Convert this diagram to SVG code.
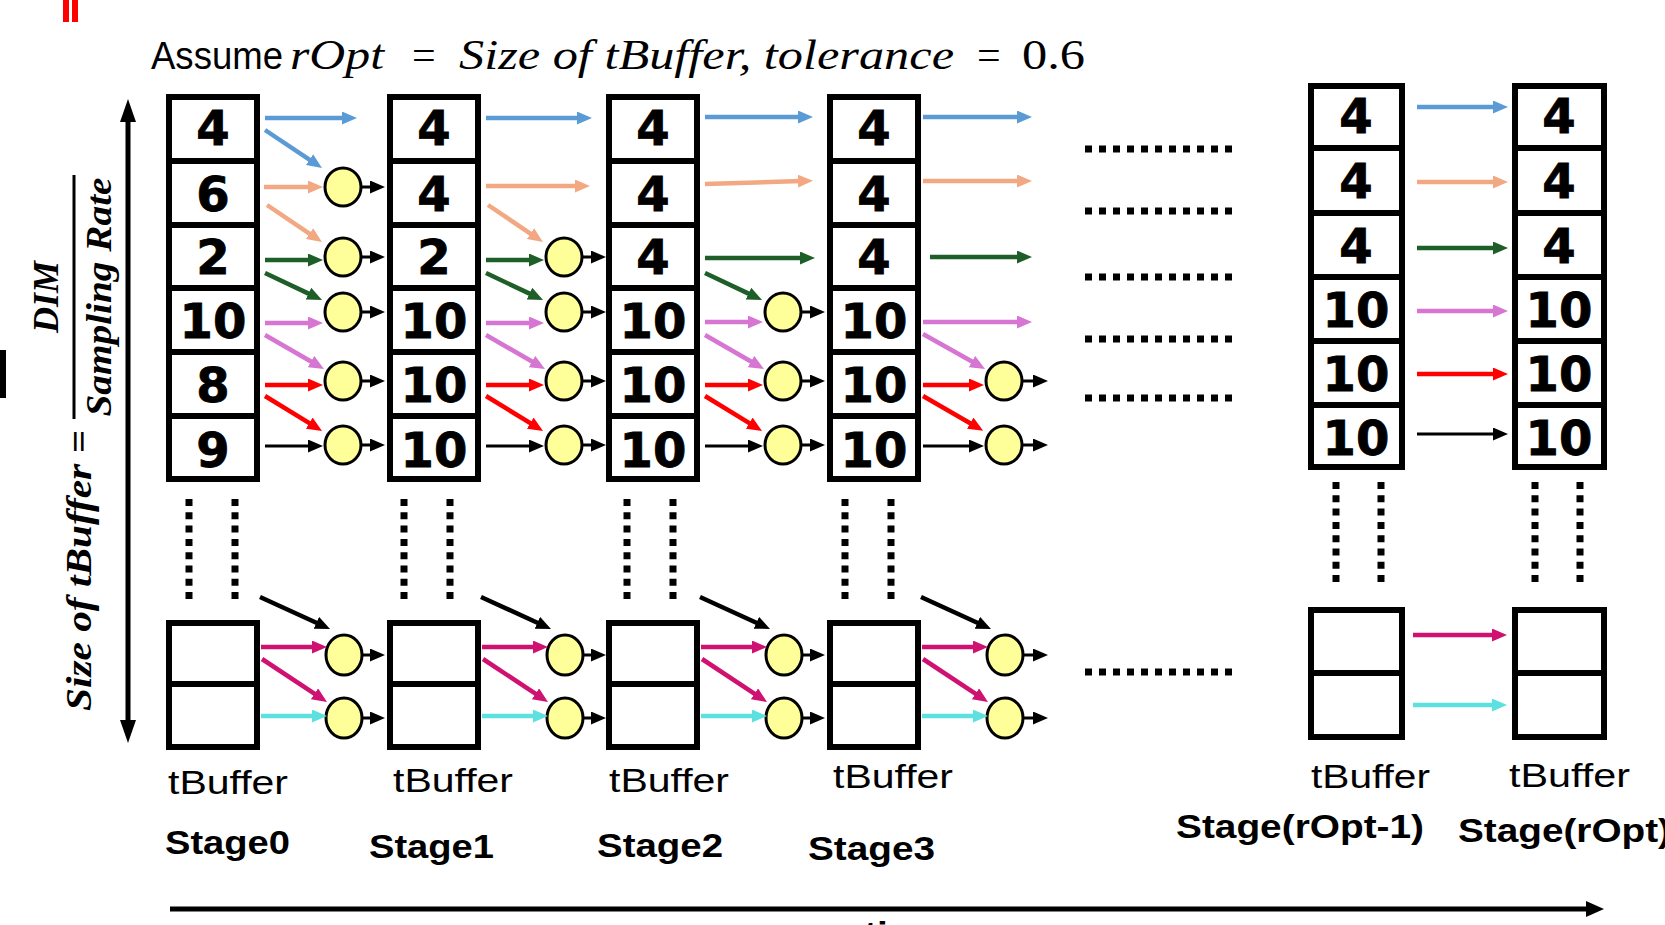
<svg xmlns="http://www.w3.org/2000/svg" width="1665" height="925" viewBox="0 0 1665 925">
  <style>
    .box{fill:#fff;stroke:#000;stroke-width:6}
    .div{stroke:#000;stroke-width:6}
    .num{font-family:"DejaVu Sans",sans-serif;font-weight:bold;font-size:48px;text-anchor:middle;fill:#000;stroke:#000;stroke-width:0.8}
    .node{fill:#FFFF99;stroke:#000;stroke-width:3}
    .lbl{font-family:"Liberation Sans",Arial,sans-serif;font-size:34px;fill:#000}
    .stg{font-family:"Liberation Sans",Arial,sans-serif;font-size:33px;font-weight:bold;fill:#000}
    .sans{font-family:"Liberation Sans",Arial,sans-serif;font-size:39px;fill:#000}
    .math{font-family:"Liberation Serif","Times New Roman",serif;font-style:italic;font-size:42px;fill:#000}
    .mup{font-family:"Liberation Serif","Times New Roman",serif;font-size:42px;fill:#000}
    .fml{font-family:"Liberation Serif","Times New Roman",serif;font-style:italic;font-weight:bold;font-size:36px;fill:#000}
    .a{fill:none;stroke-width:4.5}
    .k{fill:none;stroke:#000;stroke-width:3}
    .kd{fill:none;stroke:#000;stroke-width:4.5}
    .blue{stroke:#5B9BD5}
    .orange{stroke:#F2A882}
    .green{stroke:#1E5E28}
    .violet{stroke:#D676D2}
    .red{stroke:#FF0000}
    .mag{stroke:#CF1171}
    .cyan{stroke:#5CE1E0}
    .vdots{stroke:#000;stroke-width:7;stroke-dasharray:7 6.3}
    .hdots{stroke:#000;stroke-width:7;stroke-dasharray:7 7}
  </style>
  <defs>
    <marker id="mB" viewBox="0 0 15 13" refX="3" refY="6.5" markerWidth="15" markerHeight="13" markerUnits="userSpaceOnUse" orient="auto"><path d="M0,0L15,6.5L0,13z" fill="#5B9BD5"/></marker>
    <marker id="mO" viewBox="0 0 15 13" refX="3" refY="6.5" markerWidth="15" markerHeight="13" markerUnits="userSpaceOnUse" orient="auto"><path d="M0,0L15,6.5L0,13z" fill="#F2A882"/></marker>
    <marker id="mG" viewBox="0 0 15 13" refX="3" refY="6.5" markerWidth="15" markerHeight="13" markerUnits="userSpaceOnUse" orient="auto"><path d="M0,0L15,6.5L0,13z" fill="#1E5E28"/></marker>
    <marker id="mV" viewBox="0 0 15 13" refX="3" refY="6.5" markerWidth="15" markerHeight="13" markerUnits="userSpaceOnUse" orient="auto"><path d="M0,0L15,6.5L0,13z" fill="#D676D2"/></marker>
    <marker id="mR" viewBox="0 0 15 13" refX="3" refY="6.5" markerWidth="15" markerHeight="13" markerUnits="userSpaceOnUse" orient="auto"><path d="M0,0L15,6.5L0,13z" fill="#FF0000"/></marker>
    <marker id="mM" viewBox="0 0 15 13" refX="3" refY="6.5" markerWidth="15" markerHeight="13" markerUnits="userSpaceOnUse" orient="auto"><path d="M0,0L15,6.5L0,13z" fill="#CF1171"/></marker>
    <marker id="mC" viewBox="0 0 15 13" refX="3" refY="6.5" markerWidth="15" markerHeight="13" markerUnits="userSpaceOnUse" orient="auto"><path d="M0,0L15,6.5L0,13z" fill="#5CE1E0"/></marker>
    <marker id="mK" viewBox="0 0 15 13" refX="3" refY="6.5" markerWidth="15" markerHeight="13" markerUnits="userSpaceOnUse" orient="auto"><path d="M0,0L15,6.5L0,13z" fill="#000"/></marker>
  </defs>

  <rect width="1665" height="925" fill="#fff"/>

  <!-- edge marks -->
  <rect x="63" y="0" width="6" height="22" fill="#FF0000"/>
  <rect x="72" y="0" width="6" height="22" fill="#FF0000"/>
  <rect x="0" y="350" width="6" height="48" fill="#000"/>

  <!-- title -->
  <g id="title">
    <text class="sans" x="151" y="69" textLength="132" lengthAdjust="spacingAndGlyphs">Assume</text>
    <text class="math" x="290" y="69" textLength="94" lengthAdjust="spacingAndGlyphs">rOpt</text>
    <text class="mup" x="412" y="69">=</text>
    <text class="math" x="459" y="69" textLength="495" lengthAdjust="spacingAndGlyphs">Size of tBuffer, tolerance</text>
    <text class="mup" x="977" y="69">=</text>
    <text class="mup" x="1022" y="69" textLength="63" lengthAdjust="spacingAndGlyphs">0.6</text>
  </g>

  <!-- buffer size axis -->
  <g id="size-axis">
    <line x1="128" y1="118" x2="128" y2="724" stroke="#000" stroke-width="5"/>
    <path d="M128,99L120,122L136,122z" fill="#000"/>
    <path d="M128,743L120,720L136,720z" fill="#000"/>
    <text class="fml" transform="translate(91,711) rotate(-90)" textLength="281" lengthAdjust="spacingAndGlyphs">Size of tBuffer =</text>
    <text class="fml" transform="translate(58,297) rotate(-90)" text-anchor="middle" font-size="32">DIM</text>
    <line x1="74" y1="175" x2="74" y2="419" stroke="#000" stroke-width="3"/>
    <text class="fml" transform="translate(111,297) rotate(-90)" text-anchor="middle" textLength="239" lengthAdjust="spacingAndGlyphs">Sampling Rate</text>
  </g>

  <!-- time axis -->
  <g id="time-axis">
    <line x1="170" y1="909" x2="1590" y2="909" stroke="#000" stroke-width="5"/>
    <path d="M1604,909L1586,901L1586,917z" fill="#000"/>
    <text class="stg" x="864" y="945" textLength="80" lengthAdjust="spacingAndGlyphs">time</text>
  </g>

  <!-- tBuffer columns -->
  <g id="stage0-buffer">
    <rect class="box" x="169" y="97" width="88" height="382"/>
    <path class="div" d="M166,161H260M166,225H260M166,288H260M166,352H260M166,416H260"/>
    <text class="num" x="213" y="145">4</text>
    <text class="num" x="213" y="210.5">6</text>
    <text class="num" x="213" y="274">2</text>
    <text class="num" x="213" y="337.5">10</text>
    <text class="num" x="213" y="401.5">8</text>
    <text class="num" x="213" y="466.5">9</text>
    <line class="vdots" x1="189" y1="499" x2="189" y2="600"/>
    <line class="vdots" x1="235" y1="499" x2="235" y2="600"/>
    <rect class="box" x="169" y="623" width="88" height="124"/>
    <path class="div" d="M166,684H260"/>
    <text class="lbl" x="168" y="794" textLength="120" lengthAdjust="spacingAndGlyphs">tBuffer</text>
    <text class="stg" x="165" y="854" textLength="125" lengthAdjust="spacingAndGlyphs">Stage0</text>
  </g>

  <g id="stage1-buffer">
    <rect class="box" x="390" y="97" width="88" height="382"/>
    <path class="div" d="M387,161H481M387,225H481M387,288H481M387,352H481M387,416H481"/>
    <text class="num" x="434" y="145">4</text>
    <text class="num" x="434" y="210.5">4</text>
    <text class="num" x="434" y="274">2</text>
    <text class="num" x="434" y="337.5">10</text>
    <text class="num" x="434" y="401.5">10</text>
    <text class="num" x="434" y="466.5">10</text>
    <line class="vdots" x1="404" y1="499" x2="404" y2="600"/>
    <line class="vdots" x1="450" y1="499" x2="450" y2="600"/>
    <rect class="box" x="390" y="623" width="88" height="124"/>
    <path class="div" d="M387,684H481"/>
    <text class="lbl" x="393" y="792" textLength="120" lengthAdjust="spacingAndGlyphs">tBuffer</text>
    <text class="stg" x="369" y="858" textLength="125" lengthAdjust="spacingAndGlyphs">Stage1</text>
  </g>

  <g id="stage2-buffer">
    <rect class="box" x="609" y="97" width="88" height="382"/>
    <path class="div" d="M606,161H700M606,225H700M606,288H700M606,352H700M606,416H700"/>
    <text class="num" x="653" y="145">4</text>
    <text class="num" x="653" y="210.5">4</text>
    <text class="num" x="653" y="274">4</text>
    <text class="num" x="653" y="337.5">10</text>
    <text class="num" x="653" y="401.5">10</text>
    <text class="num" x="653" y="466.5">10</text>
    <line class="vdots" x1="627" y1="499" x2="627" y2="600"/>
    <line class="vdots" x1="673" y1="499" x2="673" y2="600"/>
    <rect class="box" x="609" y="623" width="88" height="124"/>
    <path class="div" d="M606,684H700"/>
    <text class="lbl" x="609" y="792" textLength="120" lengthAdjust="spacingAndGlyphs">tBuffer</text>
    <text class="stg" x="597" y="857" textLength="126" lengthAdjust="spacingAndGlyphs">Stage2</text>
  </g>

  <g id="stage3-buffer">
    <rect class="box" x="830" y="97" width="88" height="382"/>
    <path class="div" d="M827,161H921M827,225H921M827,288H921M827,352H921M827,416H921"/>
    <text class="num" x="874" y="145">4</text>
    <text class="num" x="874" y="210.5">4</text>
    <text class="num" x="874" y="274">4</text>
    <text class="num" x="874" y="337.5">10</text>
    <text class="num" x="874" y="401.5">10</text>
    <text class="num" x="874" y="466.5">10</text>
    <line class="vdots" x1="845" y1="499" x2="845" y2="600"/>
    <line class="vdots" x1="891" y1="499" x2="891" y2="600"/>
    <rect class="box" x="830" y="623" width="88" height="124"/>
    <path class="div" d="M827,684H921"/>
    <text class="lbl" x="833" y="788" textLength="120" lengthAdjust="spacingAndGlyphs">tBuffer</text>
    <text class="stg" x="808" y="860" textLength="127" lengthAdjust="spacingAndGlyphs">Stage3</text>
  </g>

  <g id="stage-ropt-1-buffer">
    <rect class="box" x="1311" y="86" width="91" height="381"/>
    <path class="div" d="M1308,148H1405M1308,213H1405M1308,277H1405M1308,341H1405M1308,405H1405"/>
    <text class="num" x="1356" y="133">4</text>
    <text class="num" x="1356" y="198">4</text>
    <text class="num" x="1356" y="262.5">4</text>
    <text class="num" x="1356" y="326.5">10</text>
    <text class="num" x="1356" y="390.5">10</text>
    <text class="num" x="1356" y="455">10</text>
    <line class="vdots" x1="1336" y1="482" x2="1336" y2="582"/>
    <line class="vdots" x1="1381" y1="482" x2="1381" y2="582"/>
    <rect class="box" x="1311" y="610" width="91" height="127"/>
    <path class="div" d="M1308,673H1405"/>
    <text class="lbl" x="1311" y="788" textLength="119" lengthAdjust="spacingAndGlyphs">tBuffer</text>
    <text class="stg" x="1176" y="838" textLength="248" lengthAdjust="spacingAndGlyphs">Stage(rOpt-1)</text>
  </g>

  <g id="stage-ropt-buffer">
    <rect class="box" x="1515" y="86" width="89" height="381"/>
    <path class="div" d="M1512,148H1607M1512,213H1607M1512,277H1607M1512,341H1607M1512,405H1607"/>
    <text class="num" x="1559" y="133">4</text>
    <text class="num" x="1559" y="198">4</text>
    <text class="num" x="1559" y="262.5">4</text>
    <text class="num" x="1559" y="326.5">10</text>
    <text class="num" x="1559" y="390.5">10</text>
    <text class="num" x="1559" y="455">10</text>
    <line class="vdots" x1="1535" y1="482" x2="1535" y2="582"/>
    <line class="vdots" x1="1580" y1="482" x2="1580" y2="582"/>
    <rect class="box" x="1515" y="610" width="89" height="127"/>
    <path class="div" d="M1512,673H1607"/>
    <text class="lbl" x="1509" y="787" textLength="121" lengthAdjust="spacingAndGlyphs">tBuffer</text>
    <text class="stg" x="1458" y="842" textLength="213" lengthAdjust="spacingAndGlyphs">Stage(rOpt)</text>
  </g>

  <!-- skipped stages -->
  <g id="skipped-stages">
    <path class="hdots" d="M1085,149H1232M1085,211H1232M1085,277H1232M1085,339H1232M1085,398H1232M1085,672H1232"/>
  </g>

  <!-- compare nodes -->
  <g id="stage0-compare">
    <ellipse class="node" cx="343" cy="187" rx="18" ry="19"/>
    <ellipse class="node" cx="343" cy="257" rx="18" ry="19"/>
    <ellipse class="node" cx="343" cy="312" rx="18" ry="19"/>
    <ellipse class="node" cx="343" cy="381" rx="18" ry="19"/>
    <ellipse class="node" cx="343" cy="445" rx="18" ry="19"/>
    <ellipse class="node" cx="344" cy="655" rx="18" ry="20"/>
    <ellipse class="node" cx="344" cy="718" rx="18" ry="20"/>
  </g>
  <g id="stage1-compare">
    <ellipse class="node" cx="564" cy="257" rx="18" ry="19"/>
    <ellipse class="node" cx="564" cy="312" rx="18" ry="19"/>
    <ellipse class="node" cx="564" cy="381" rx="18" ry="19"/>
    <ellipse class="node" cx="564" cy="445" rx="18" ry="19"/>
    <ellipse class="node" cx="565" cy="655" rx="18" ry="20"/>
    <ellipse class="node" cx="565" cy="718" rx="18" ry="20"/>
  </g>
  <g id="stage2-compare">
    <ellipse class="node" cx="783" cy="312" rx="18" ry="19"/>
    <ellipse class="node" cx="783" cy="381" rx="18" ry="19"/>
    <ellipse class="node" cx="783" cy="445" rx="18" ry="19"/>
    <ellipse class="node" cx="784" cy="655" rx="18" ry="20"/>
    <ellipse class="node" cx="784" cy="718" rx="18" ry="20"/>
  </g>
  <g id="stage3-compare">
    <ellipse class="node" cx="1004" cy="381" rx="18" ry="19"/>
    <ellipse class="node" cx="1004" cy="445" rx="18" ry="19"/>
    <ellipse class="node" cx="1005" cy="655" rx="18" ry="20"/>
    <ellipse class="node" cx="1005" cy="718" rx="18" ry="20"/>
  </g>

  <!-- connectors -->
  <g id="connectors">
    <g id="conn-stage0">
      <line class="a blue" x1="265" y1="118" x2="345" y2="118" marker-end="url(#mB)"/>
      <line class="a blue" x1="265" y1="130" x2="312" y2="161.3" marker-end="url(#mB)"/>
      <line class="a orange" x1="264" y1="187" x2="311" y2="187" marker-end="url(#mO)"/>
      <line class="a orange" x1="267" y1="205" x2="312" y2="235.3" marker-end="url(#mO)"/>
      <line class="a green" x1="265" y1="260" x2="311" y2="260" marker-end="url(#mG)"/>
      <line class="a green" x1="265" y1="273" x2="311.2" y2="294.9" marker-end="url(#mG)"/>
      <line class="a violet" x1="265" y1="323" x2="311" y2="323" marker-end="url(#mV)"/>
      <line class="a violet" x1="265" y1="335" x2="313.6" y2="363" marker-end="url(#mV)"/>
      <line class="a red" x1="265" y1="385" x2="311" y2="385" marker-end="url(#mR)"/>
      <line class="a red" x1="265" y1="396" x2="311.8" y2="424.7" marker-end="url(#mR)"/>
      <line class="k" x1="265" y1="446" x2="311" y2="446" marker-end="url(#mK)"/>
      <line class="k" x1="361" y1="187" x2="373" y2="187" marker-end="url(#mK)"/>
      <line class="k" x1="361" y1="257" x2="373" y2="257" marker-end="url(#mK)"/>
      <line class="k" x1="361" y1="312" x2="373" y2="312" marker-end="url(#mK)"/>
      <line class="k" x1="361" y1="381" x2="373" y2="381" marker-end="url(#mK)"/>
      <line class="k" x1="361" y1="445" x2="373" y2="445" marker-end="url(#mK)"/>
    </g>
    <g id="conn-stage1" transform="translate(221,0)">
      <line class="a blue" x1="265" y1="118" x2="359" y2="118" marker-end="url(#mB)"/>
      <line class="a orange" x1="265" y1="186" x2="357" y2="186" marker-end="url(#mO)"/>
      <line class="a orange" x1="267" y1="205" x2="312" y2="235.3" marker-end="url(#mO)"/>
      <line class="a green" x1="265" y1="260" x2="311" y2="260" marker-end="url(#mG)"/>
      <line class="a green" x1="265" y1="273" x2="311.2" y2="294.9" marker-end="url(#mG)"/>
      <line class="a violet" x1="265" y1="323" x2="311" y2="323" marker-end="url(#mV)"/>
      <line class="a violet" x1="265" y1="335" x2="313.6" y2="363" marker-end="url(#mV)"/>
      <line class="a red" x1="265" y1="385" x2="311" y2="385" marker-end="url(#mR)"/>
      <line class="a red" x1="265" y1="396" x2="311.8" y2="424.7" marker-end="url(#mR)"/>
      <line class="k" x1="265" y1="446" x2="311" y2="446" marker-end="url(#mK)"/>
      <line class="k" x1="361" y1="257" x2="373" y2="257" marker-end="url(#mK)"/>
      <line class="k" x1="361" y1="312" x2="373" y2="312" marker-end="url(#mK)"/>
      <line class="k" x1="361" y1="381" x2="373" y2="381" marker-end="url(#mK)"/>
      <line class="k" x1="361" y1="445" x2="373" y2="445" marker-end="url(#mK)"/>
    </g>
    <g id="conn-stage2" transform="translate(440,0)">
      <line class="a blue" x1="265" y1="117" x2="361" y2="117" marker-end="url(#mB)"/>
      <line class="a orange" x1="265" y1="184" x2="361" y2="181" marker-end="url(#mO)"/>
      <line class="a green" x1="265" y1="258" x2="363" y2="258" marker-end="url(#mG)"/>
      <line class="a green" x1="265" y1="273" x2="311.2" y2="294.9" marker-end="url(#mG)"/>
      <line class="a violet" x1="265" y1="322" x2="311" y2="322" marker-end="url(#mV)"/>
      <line class="a violet" x1="265" y1="335" x2="313.6" y2="363" marker-end="url(#mV)"/>
      <line class="a red" x1="265" y1="385" x2="311" y2="385" marker-end="url(#mR)"/>
      <line class="a red" x1="265" y1="396" x2="311.8" y2="424.7" marker-end="url(#mR)"/>
      <line class="k" x1="265" y1="446" x2="311" y2="446" marker-end="url(#mK)"/>
      <line class="k" x1="361" y1="312" x2="373" y2="312" marker-end="url(#mK)"/>
      <line class="k" x1="361" y1="381" x2="373" y2="381" marker-end="url(#mK)"/>
      <line class="k" x1="361" y1="445" x2="373" y2="445" marker-end="url(#mK)"/>
    </g>
    <g id="conn-stage3" transform="translate(661,0)">
      <line class="a blue" x1="262" y1="117" x2="359" y2="117" marker-end="url(#mB)"/>
      <line class="a orange" x1="262" y1="181" x2="359" y2="181" marker-end="url(#mO)"/>
      <line class="a green" x1="269" y1="257" x2="359" y2="257" marker-end="url(#mG)"/>
      <line class="a violet" x1="262" y1="322" x2="359" y2="322" marker-end="url(#mV)"/>
      <line class="a violet" x1="262" y1="334" x2="313.6" y2="363" marker-end="url(#mV)"/>
      <line class="a red" x1="262" y1="385" x2="311" y2="385" marker-end="url(#mR)"/>
      <line class="a red" x1="262" y1="396" x2="311.8" y2="424.7" marker-end="url(#mR)"/>
      <line class="k" x1="262" y1="446" x2="311" y2="446" marker-end="url(#mK)"/>
      <line class="k" x1="361" y1="381" x2="375" y2="381" marker-end="url(#mK)"/>
      <line class="k" x1="361" y1="445" x2="375" y2="445" marker-end="url(#mK)"/>
    </g>
    <g id="conn-bottom">
      <g transform="translate(0,0)">
        <line class="kd" x1="260" y1="597" x2="319.1" y2="624" marker-end="url(#mK)"/>
        <line class="a mag" x1="261" y1="647" x2="315" y2="647" marker-end="url(#mM)"/>
        <line class="a mag" x1="262" y1="659" x2="317" y2="695.4" marker-end="url(#mM)"/>
        <line class="a cyan" x1="261" y1="716" x2="315" y2="716" marker-end="url(#mC)"/>
        <line class="k" x1="362" y1="655" x2="373" y2="655" marker-end="url(#mK)"/>
        <line class="k" x1="362" y1="718" x2="373" y2="718" marker-end="url(#mK)"/>
      </g>
      <g transform="translate(221,0)">
        <line class="kd" x1="260" y1="597" x2="319.1" y2="624" marker-end="url(#mK)"/>
        <line class="a mag" x1="261" y1="647" x2="315" y2="647" marker-end="url(#mM)"/>
        <line class="a mag" x1="262" y1="659" x2="317" y2="695.4" marker-end="url(#mM)"/>
        <line class="a cyan" x1="261" y1="716" x2="315" y2="716" marker-end="url(#mC)"/>
        <line class="k" x1="362" y1="655" x2="373" y2="655" marker-end="url(#mK)"/>
        <line class="k" x1="362" y1="718" x2="373" y2="718" marker-end="url(#mK)"/>
      </g>
      <g transform="translate(440,0)">
        <line class="kd" x1="260" y1="597" x2="319.1" y2="624" marker-end="url(#mK)"/>
        <line class="a mag" x1="261" y1="647" x2="315" y2="647" marker-end="url(#mM)"/>
        <line class="a mag" x1="262" y1="659" x2="317" y2="695.4" marker-end="url(#mM)"/>
        <line class="a cyan" x1="261" y1="716" x2="315" y2="716" marker-end="url(#mC)"/>
        <line class="k" x1="362" y1="655" x2="373" y2="655" marker-end="url(#mK)"/>
        <line class="k" x1="362" y1="718" x2="373" y2="718" marker-end="url(#mK)"/>
      </g>
      <g transform="translate(661,0)">
        <line class="kd" x1="260" y1="597" x2="319.1" y2="624" marker-end="url(#mK)"/>
        <line class="a mag" x1="261" y1="647" x2="315" y2="647" marker-end="url(#mM)"/>
        <line class="a mag" x1="262" y1="659" x2="317" y2="695.4" marker-end="url(#mM)"/>
        <line class="a cyan" x1="261" y1="716" x2="315" y2="716" marker-end="url(#mC)"/>
        <line class="k" x1="362" y1="655" x2="375" y2="655" marker-end="url(#mK)"/>
        <line class="k" x1="362" y1="718" x2="375" y2="718" marker-end="url(#mK)"/>
      </g>
    </g>
    <g id="conn-final">
      <line class="a blue" x1="1417" y1="107" x2="1496" y2="107" marker-end="url(#mB)"/>
      <line class="a orange" x1="1417" y1="182" x2="1496" y2="182" marker-end="url(#mO)"/>
      <line class="a green" x1="1417" y1="248" x2="1496" y2="248" marker-end="url(#mG)"/>
      <line class="a violet" x1="1417" y1="311" x2="1496" y2="311" marker-end="url(#mV)"/>
      <line class="a red" x1="1417" y1="374" x2="1496" y2="374" marker-end="url(#mR)"/>
      <line class="k" x1="1417" y1="434" x2="1496" y2="434" marker-end="url(#mK)"/>
      <line class="a mag" x1="1413" y1="635" x2="1495" y2="635" marker-end="url(#mM)"/>
      <line class="a cyan" x1="1413" y1="705" x2="1495" y2="705" marker-end="url(#mC)"/>
    </g>
  </g>
</svg>
